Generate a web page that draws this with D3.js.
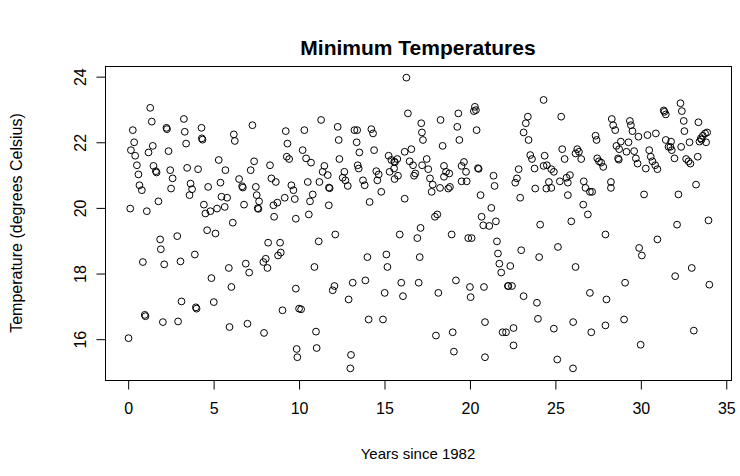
<!DOCTYPE html>
<html>
<head>
<meta charset="utf-8">
<script src="https://cdn.jsdelivr.net/npm/d3@7"></script>
<style>
  html, body { margin: 0; padding: 0; background: #fff; }
  svg { display: block; }
  text { font-family: "Liberation Sans", Arial, Helvetica, sans-serif; fill: #000; }
</style>
</head>
<body>
<svg id="chart" width="740" height="476"></svg>
<script>
// Monthly minimum temperatures: time in years since 1982, value in degrees Celsius
const yearsSince = [
  0.02, 0.12, 0.16, 0.27, 0.35, 0.41, 0.51, 0.60, 0.66, 0.80, 0.86, 0.97,
  1.01, 1.09, 1.19, 1.29, 1.38, 1.44, 1.48, 1.62, 1.66, 1.77, 1.87, 1.91,
  2.03, 2.11, 2.24, 2.27, 2.36, 2.46, 2.51, 2.60, 2.87, 2.92,
  3.06, 3.12, 3.26, 3.31, 3.39, 3.45, 3.59, 3.65, 3.74, 3.90, 3.96, 4.00,
  4.09, 4.29, 4.31, 4.35, 4.43, 4.52, 4.62, 4.68, 4.81, 4.87,
  5.01, 5.11, 5.20, 5.30, 5.40, 5.46, 5.65, 5.69, 5.79, 5.89, 5.93,
  6.04, 6.12, 6.18, 6.24, 6.49, 6.67, 6.71, 6.78, 6.88, 6.98,
  7.08, 7.17, 7.27, 7.37, 7.47, 7.52, 7.58, 7.62, 7.66, 7.91, 7.95,
  8.05, 8.15, 8.19, 8.30, 8.38, 8.50, 8.54, 8.64, 8.73, 8.77, 8.89, 8.93,
  9.03, 9.16, 9.22, 9.28, 9.32, 9.42, 9.55, 9.67, 9.75, 9.81, 9.81, 9.86, 9.90,
  10.00, 10.12, 10.21, 10.31, 10.41, 10.51, 10.57, 10.64, 10.70, 10.80, 10.90, 10.99,
  11.03, 11.15, 11.19, 11.29, 11.38, 11.48, 11.68, 11.74, 11.75, 11.79, 11.97,
  12.07, 12.12, 12.26, 12.32, 12.36, 12.55, 12.65, 12.71, 12.85, 12.90,
  13.00, 13.04, 13.14, 13.24, 13.40, 13.37, 13.43, 13.49, 13.53, 13.74, 13.84, 13.88,
  14.00, 14.07, 14.13, 14.23, 14.33, 14.39, 14.52, 14.58, 14.66, 14.81, 14.91,
  15.01, 15.11, 15.17, 15.24, 15.30, 15.40, 15.56, 15.57, 15.61, 15.59, 15.75, 15.79, 15.89, 15.98,
  16.08, 16.18, 16.18, 16.28, 16.37, 16.47, 16.57, 16.67, 16.73, 16.80, 16.92,
  17.00, 17.06, 17.11, 17.15, 17.19, 17.20, 17.25, 17.47, 17.56, 17.66, 17.76, 17.82, 17.95,
  18.01, 18.09, 18.15, 18.25, 18.28, 18.40, 18.48, 18.48, 18.60, 18.73, 18.79, 18.83, 18.93, 18.99,
  19.06, 19.18, 19.26, 19.32, 19.38, 19.51, 19.51, 19.65, 19.77, 19.81, 19.90,
  20.00, 20.04, 20.10, 20.23, 20.29, 20.35, 20.39, 20.47, 20.51, 20.62, 20.68, 20.78, 20.82, 20.88, 20.88,
  21.13, 21.25, 21.38, 21.44, 21.52, 21.58, 21.64, 21.72, 21.83, 21.91,
  22.11, 22.22, 22.25, 22.36, 22.46, 22.55, 22.55, 22.65, 22.75, 22.85, 22.94,
  23.00, 23.14, 23.14, 23.27, 23.39, 23.43, 23.53, 23.63, 23.78, 23.82, 23.92, 23.98,
  24.05, 24.11, 24.31, 24.31, 24.37, 24.47, 24.50, 24.62, 24.76, 24.76, 24.91, 24.91,
  25.11, 25.15, 25.26, 25.34, 25.40, 25.54, 25.65, 25.73, 25.73, 25.85, 25.93,
  26.03, 26.04, 26.18, 26.18, 26.28, 26.38, 26.51, 26.63, 26.66, 26.76, 26.90,
  27.02, 27.02, 27.10, 27.15, 27.35, 27.41, 27.45, 27.55, 27.68, 27.80, 27.93, 27.93, 27.99,
  28.25, 28.25, 28.30, 28.38, 28.50, 28.57, 28.67, 28.71, 28.73, 28.83,
  29.02, 29.08, 29.16, 29.28, 29.36, 29.42, 29.51, 29.61, 29.71, 29.81, 29.86, 29.90, 29.99,
  30.06, 30.19, 30.29, 30.39, 30.49, 30.58, 30.68, 30.84, 30.88, 30.97, 30.97,
  31.34, 31.38, 31.46, 31.46, 31.62, 31.73, 31.77, 31.81, 31.97,
  32.01, 32.12, 32.20, 32.32, 32.36, 32.40, 32.51, 32.55, 32.65, 32.79, 32.85, 32.90, 32.98,
  33.10, 33.23, 33.33, 33.37, 33.43, 33.51, 33.55, 33.63, 33.76, 33.82, 33.88, 33.96, 34.01
];

const minTemp = [
  16.03, 19.98, 21.76, 22.37, 22.00, 21.59, 21.30, 21.02, 20.69, 20.54, 18.35, 16.74,
  16.70, 19.90, 21.69, 23.05, 22.63, 21.89, 21.28, 21.12, 21.08, 20.20, 19.04, 18.74,
  16.52, 18.28, 22.44, 22.40, 21.73, 21.15, 20.59, 20.90, 19.14, 16.54,
  18.37, 17.15, 22.71, 22.32, 21.96, 21.22, 20.39, 20.74, 20.57, 18.58, 16.97, 16.93,
  21.18, 22.44, 22.12, 22.08, 20.10, 19.83, 19.32, 20.64, 19.90, 17.86,
  17.13, 19.22, 19.98, 21.46, 20.77, 20.34, 20.03, 21.15, 20.31, 18.17, 16.37,
  17.59, 19.55, 22.24, 22.04, 20.88, 20.66, 20.62, 20.10, 18.30, 16.47,
  18.03, 21.15, 22.52, 21.42, 20.64, 20.39, 19.99, 19.97, 20.20, 18.35, 16.19,
  18.45, 18.17, 18.94, 21.30, 20.90, 20.08, 19.73, 20.79, 20.16, 18.55, 18.94, 18.64,
  16.88, 20.31, 22.34, 21.56, 21.96, 21.49, 20.69, 20.54, 20.27, 19.67, 17.54, 15.70, 15.45,
  16.93, 16.91, 21.76, 22.37, 21.51, 20.79, 19.80, 20.20, 21.38, 20.41, 18.20, 16.23,
  15.73, 18.98, 20.79, 22.68, 21.10, 21.28, 21.00, 20.08, 20.62, 20.60, 17.49,
  17.62, 19.19, 22.47, 22.07, 21.49, 20.92, 21.10, 20.84, 20.67, 17.21,
  15.11, 15.52, 17.72, 22.37, 22.37, 22.00, 21.30, 21.20, 21.69, 20.84, 20.69, 17.79,
  18.50, 16.60, 20.18, 22.40, 22.27, 21.76, 21.12, 20.84, 21.02, 20.49, 16.60,
  17.41, 18.58, 18.20, 21.59, 21.10, 21.46, 21.20, 21.41, 21.39, 20.88, 21.49, 20.98, 19.19, 17.72,
  17.31, 21.71, 20.28, 23.97, 22.88, 21.42, 21.79, 21.30, 20.98, 21.05, 19.08,
  17.72, 18.50, 19.39, 22.58, 22.30, 21.30, 22.07, 21.49, 21.18, 20.90, 20.49, 20.71, 19.73,
  16.11, 19.80, 17.41, 20.61, 22.68, 21.89, 21.28, 20.95, 21.10, 20.59, 21.05, 20.64, 19.19, 16.21,
  15.62, 17.79, 22.47, 22.88, 22.07, 21.28, 20.81, 21.40, 21.10, 20.81, 19.08,
  17.59, 17.28, 19.08, 22.95, 23.08, 22.98, 22.37, 21.21, 21.19, 20.39, 19.73, 19.47, 17.59, 16.52, 15.45,
  19.45, 20.00, 20.98, 20.67, 19.59, 18.98, 18.61, 18.30, 18.03, 16.21,
  16.21, 17.62, 17.62, 18.23, 17.62, 16.34, 15.81, 20.77, 20.90, 21.18, 20.31,
  18.71, 22.30, 17.31, 22.58, 22.78, 22.07, 21.61, 21.49, 21.20, 20.59, 17.11, 16.62,
  18.50, 19.49, 23.29, 21.28, 21.59, 20.59, 21.30, 20.79, 21.18, 20.61, 21.10, 16.32,
  15.38, 18.81, 20.81, 22.78, 21.79, 21.49, 20.92, 20.77, 20.39, 21.00, 19.59,
  15.11, 16.52, 21.66, 18.20, 21.79, 21.71, 21.49, 20.10, 20.81, 20.61, 19.80,
  20.49, 17.41, 16.21, 20.49, 22.20, 22.07, 21.51, 21.42, 21.38, 21.25, 19.19, 16.42, 17.21,
  20.79, 20.61, 22.71, 22.52, 22.37, 21.89, 21.51, 21.47, 21.79, 22.02,
  16.60, 17.72, 21.71, 22.00, 22.65, 22.52, 22.34, 21.73, 21.51, 21.35, 22.17, 18.78, 15.83,
  18.55, 20.41, 21.20, 22.22, 21.76, 21.56, 21.42, 21.30, 22.27, 21.18, 19.04,
  22.97, 22.93, 22.85, 22.07, 21.86, 21.86, 22.02, 21.76, 21.51,
  17.92, 19.49, 20.41, 23.19, 21.86, 22.95, 22.65, 22.34, 21.49, 21.42, 22.00, 21.35, 18.17,
  16.26, 20.71, 21.56, 22.61, 22.02, 22.12, 22.08, 22.20, 22.27, 22.00, 22.30, 19.62, 17.66
];

const xTicks = [0, 5, 10, 15, 20, 25, 30, 35];
const yTicks = [16, 18, 20, 22, 24];

const chartTitle = "Minimum Temperatures";
const xTitle = "Years since 1982";
const yTitle = "Temperature (degrees Celsius)";

const svg = d3.select("#chart");

// plot region (base-graphics style: data range padded by 4%)
const plot = { left: 105, right: 731, top: 66, bottom: 380 };
const padRange = (lo, hi) => { const d = (hi - lo) * 0.04; return [lo - d, hi + d]; };

const x = d3.scaleLinear()
  .domain(padRange(0, 33.92))
  .range([plot.left, plot.right]);
const y = d3.scaleLinear()
  .domain(padRange(15.11, 23.97))
  .range([plot.bottom, plot.top]);

const points = yearsSince.map((t, i) => ({ t, v: minTemp[i] }));

// box around the plotting region
svg.append("rect")
  .attr("x", plot.left + 0.5)
  .attr("y", plot.top + 0.5)
  .attr("width", plot.right - plot.left)
  .attr("height", plot.bottom - plot.top)
  .attr("fill", "none")
  .attr("stroke", "#000")
  .attr("stroke-width", 1);

// open circles
svg.append("g")
  .selectAll("circle")
  .data(points)
  .join("circle")
  .attr("cx", d => x(d.t))
  .attr("cy", d => y(d.v))
  .attr("r", 3.4)
  .attr("fill", "none")
  .attr("stroke", "#000")
  .attr("stroke-width", 1);

// axes
const axisFont = 16;
const xAxis = d3.axisBottom(x).tickValues(xTicks).tickSize(9).tickPadding(13).tickFormat(d3.format("d"));
const yAxis = d3.axisLeft(y).tickValues(yTicks).tickSize(9).tickPadding(6).tickFormat(d3.format("d"));

const gx = svg.append("g")
  .attr("transform", `translate(0,${plot.bottom + 0.5})`)
  .call(xAxis);
gx.select(".domain").attr("d", `M${x(0)},0H${x(35)}`).attr("stroke", "#000");
gx.selectAll("text").attr("font-size", axisFont).attr("font-family", "Liberation Sans, Arial, sans-serif");

const gy = svg.append("g")
  .attr("transform", `translate(${plot.left + 0.5},0)`)
  .call(yAxis);
gy.select(".domain").attr("d", `M0,${y(16)}V${y(24)}`).attr("stroke", "#000");
gy.selectAll(".tick text")
  .attr("font-size", axisFont)
  .attr("font-family", "Liberation Sans, Arial, sans-serif")
  .attr("x", null).attr("dy", null)
  .attr("text-anchor", "middle")
  .attr("transform", "translate(-20,0) rotate(-90)");

// titles
svg.append("text")
  .attr("x", (plot.left + plot.right) / 2)
  .attr("y", 55)
  .attr("text-anchor", "middle")
  .attr("font-size", 21)
  .attr("font-weight", "bold")
  .text(chartTitle);

svg.append("text")
  .attr("x", (plot.left + plot.right) / 2)
  .attr("y", 459)
  .attr("text-anchor", "middle")
  .attr("font-size", 15)
  .text(xTitle);

svg.append("text")
  .attr("transform", `translate(22,${(plot.top + plot.bottom) / 2}) rotate(-90)`)
  .attr("text-anchor", "middle")
  .attr("font-size", axisFont)
  .text(yTitle);
</script>
</body>
</html>
